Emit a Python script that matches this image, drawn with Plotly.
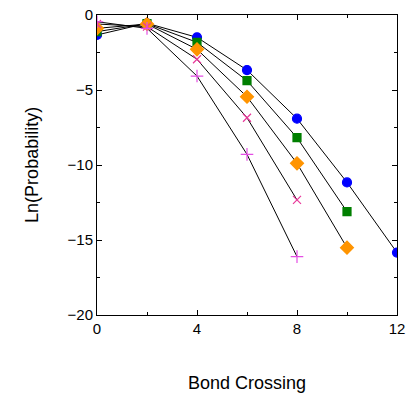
import plotly.graph_objects as go

bond_crossing_blue = [0, 2, 4, 6, 8, 10, 12]
ln_prob_blue = [-1.33, -0.55, -1.49, -3.67, -6.91, -11.16, -15.84]

bond_crossing_green = [0, 2, 4, 6, 8, 10]
ln_prob_green = [-1.11, -0.58, -1.82, -4.38, -8.18, -13.11]

bond_crossing_orange = [0, 2, 4, 6, 8, 10]
ln_prob_orange = [-0.89, -0.6, -2.29, -5.45, -9.89, -15.51]

bond_crossing_x = [0, 2, 4, 6, 8]
ln_prob_x = [-0.6, -0.78, -2.95, -6.85, -12.33]

bond_crossing_plus = [0, 2, 4, 6, 8]
ln_prob_plus = [-0.45, -0.89, -4.07, -9.29, -16.11]

x_title = "Bond Crossing"
y_title = "Ln(Probability)"

series = [
    (bond_crossing_blue, ln_prob_blue, "circle", "#0000ff", 9),
    (bond_crossing_green, ln_prob_green, "square", "#007f00", 8),
    (bond_crossing_orange, ln_prob_orange, "diamond", "#ff9400", 10),
    (bond_crossing_x, ln_prob_x, "x-thin-open", "#e8389a", 8),
    (bond_crossing_plus, ln_prob_plus, "cross-thin-open", "#e44ee4", 9),
]

fig = go.Figure()
for xs, ys, sym, col, sz in series:
    fig.add_trace(go.Scatter(
        x=xs, y=ys, mode="lines",
        line=dict(color="black", width=1),
        showlegend=False, hoverinfo="skip"))
for xs, ys, sym, col, sz in series:
    fig.add_trace(go.Scatter(
        x=xs, y=ys, mode="markers",
        marker=dict(symbol=sym, color=col, size=sz,
                    line=dict(color=col, width=1.2)),
        showlegend=False))

font = "Liberation Sans, Arial"
axis_common = dict(
    showline=True, linecolor="black", linewidth=1,
    mirror="allticks", ticks="inside", ticklen=5, tickcolor="black",
    showgrid=False, zeroline=False, automargin=False,
    tickfont=dict(family=font, size=15, color="black"),
)

fig.update_xaxes(
    range=[0, 12], dtick=4, tick0=0,
    minor=dict(dtick=2, ticks="inside", ticklen=3, tickcolor="black"),
    **axis_common)
fig.update_yaxes(
    range=[-20, 0], dtick=5, tick0=0,
    minor=dict(dtick=2.5, ticks="inside", ticklen=3, tickcolor="black"),
    **axis_common)

fig.add_annotation(text=x_title, xref="paper", yref="paper", x=0.5, y=-0.225,
                   xanchor="center", yanchor="middle", showarrow=False,
                   font=dict(family=font, size=18, color="black"))
fig.add_annotation(text=y_title, xref="paper", yref="paper", x=-0.217, y=0.5,
                   xanchor="center", yanchor="middle", showarrow=False, textangle=-90,
                   font=dict(family=font, size=18, color="black"))

fig.update_layout(
    width=406, height=397,
    margin=dict(l=97, r=9, t=15, b=82, autoexpand=False),
    plot_bgcolor="white", paper_bgcolor="white",
)

fig.write_html("out.html")
